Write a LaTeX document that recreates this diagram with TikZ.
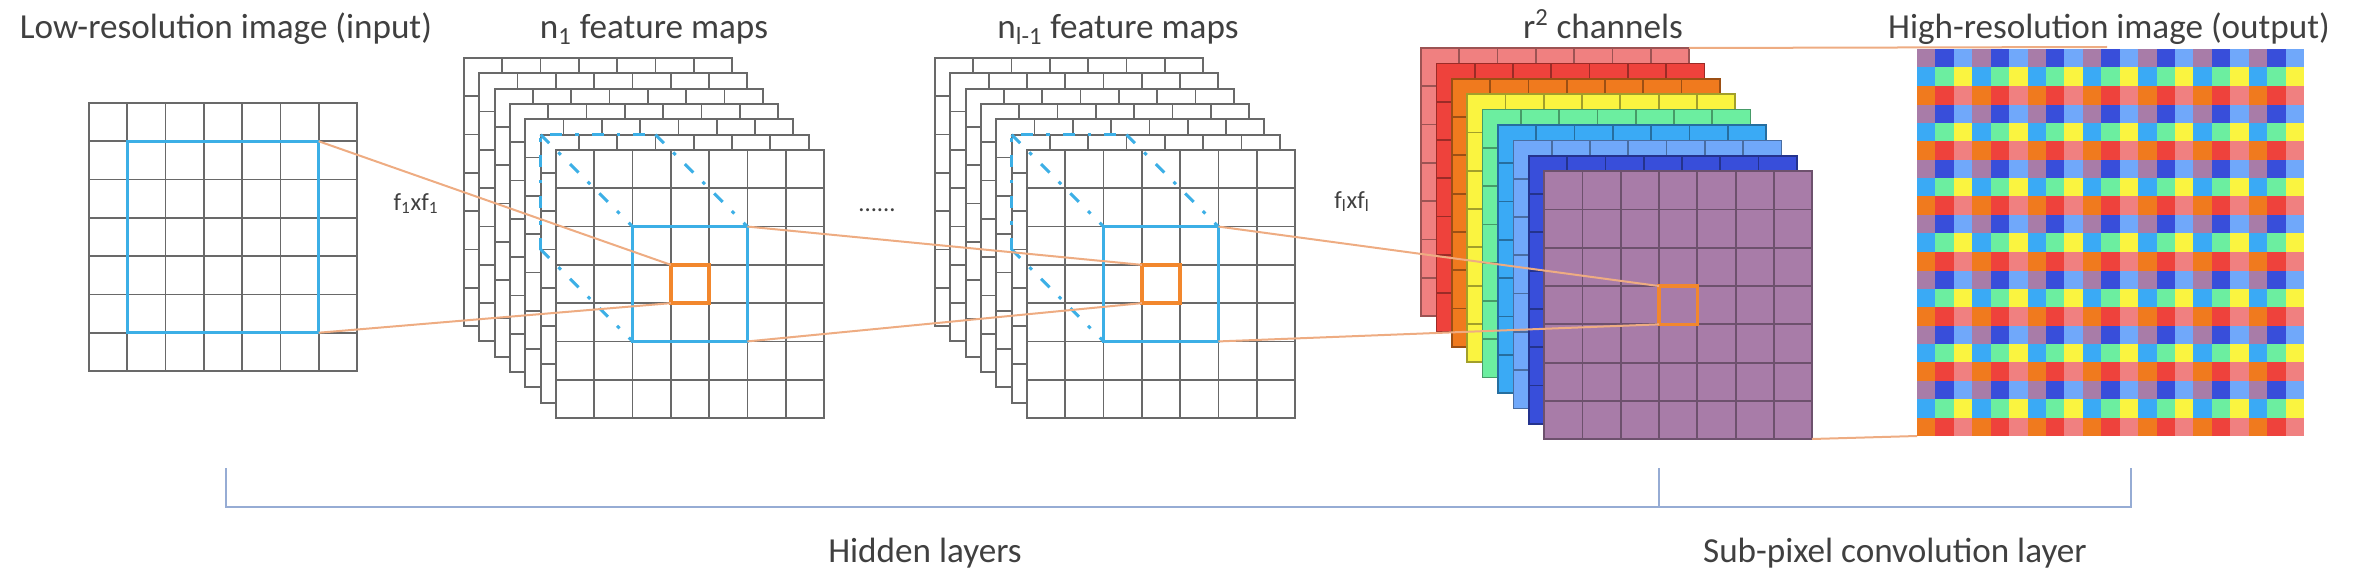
\documentclass[tikz,border=0pt]{standalone}
\usepackage{fontspec}
\setmainfont{Carlito}
\usepackage{tikz}

\definecolor{gridgray}{RGB}{105,105,105}
\definecolor{winblue}{RGB}{60,175,230}
\definecolor{cellorange}{RGB}{242,135,45}
\definecolor{linkorange}{RGB}{238,172,130}
\definecolor{bracketblue}{RGB}{150,172,212}
\definecolor{textgray}{RGB}{64,64,64}
\definecolor{chpink}{RGB}{240,128,128}
\definecolor{chred}{RGB}{238,66,60}
\definecolor{chorange}{RGB}{240,122,30}
\definecolor{chyellow}{RGB}{250,244,64}
\definecolor{chmint}{RGB}{108,238,160}
\definecolor{chazure}{RGB}{58,170,245}
\definecolor{chsky}{RGB}{112,168,250}
\definecolor{chnavy}{RGB}{56,78,218}
\definecolor{chpurple}{RGB}{168,124,168}

\def\cs{38.2857}
\def\fs{268}
\def\hc{18.43}
% one 7x7 map: top left x, y, fill, line colour
\newcommand{\fmap}[4]{%
  \fill[#3] (#1,#2) rectangle ++(\fs,\fs);
  \foreach \k in {1,...,6}
    \draw[gridline, draw=#4] (#1+\k*\cs,#2) -- ++(0,\fs) (#1,#2+\k*\cs) -- ++(\fs,0);
  \draw[gridline, draw=#4] (#1,#2) rectangle ++(\fs,\fs);
}

\begin{document}
\begin{tikzpicture}[x=0.2mm, y=-0.2mm, text=textgray,
  gridline/.style={line width=0.35mm},
  win/.style={draw=winblue, line width=0.65mm, minimum size=22.97mm},
  ghost/.style={minimum size=22.97mm},
  dashwin/.style={draw=winblue, line width=0.6mm, dash pattern=on 2.4mm off 2.6mm on 0.7mm off 2.6mm},
  cell/.style={draw=cellorange, line width=0.7mm, minimum size=7.66mm},
  link/.style={draw=linkorange, line width=0.4mm},
  bracket/.style={draw=bracketblue, line width=0.4mm},
  title/.style={font=\fontsize{20}{24}\selectfont, anchor=base},
  small/.style={font=\fontsize{14}{16}\selectfont, anchor=base}]
\tikzstyle{every node}+=[inner sep=0pt, outer sep=0pt]
\useasboundingbox (0,0) rectangle (2358,584);

% input and hidden maps
\fmap{89}{103}{white}{gridgray}
\foreach \n in {0,...,6} {\fmap{464+\n*15.33}{58+\n*15.33}{white}{gridgray}}
\foreach \n in {0,...,6} {\fmap{935+\n*15.33}{58+\n*15.33}{white}{gridgray}}

% r^2 channels
\foreach \n/\c in {0/chpink,1/chred,2/chorange,3/chyellow,4/chmint,5/chazure,6/chsky,7/chnavy,8/chpurple}
  {\fmap{1421+\n*15.4}{48+\n*15.4}{\c}{\c!65!black}}

% high-resolution image
\foreach \q/\ca/\cb/\cc in {0/chpurple/chnavy/chsky, 1/chazure/chmint/chyellow, 2/chorange/chred/chpink}
  \foreach \i in {0,...,6}
    \foreach \j in {0,...,6} {
      \pgfmathsetmacro{\yy}{49+(3*\i+\q)*\hc}
      \fill[fill=\ca] ({1917+3*\j*\hc},\yy) rectangle ++(18.8,18.8);
      \fill[fill=\cb] ({1917+(3*\j+1)*\hc},\yy) rectangle ++(18.8,18.8);
      \fill[fill=\cc] ({1917+(3*\j+2)*\hc},\yy) rectangle ++(18.8,18.8);
    }

\coordinate (pinkne) at (1689,48);
\coordinate (hrtop) at (2107,47);
\coordinate (purplese) at (1812,439);
\coordinate (hrsw) at (1917,436);

% windows
\node[win, minimum size=38.29mm] (inwin) at (223,237) {};
\node[ghost] (s1dash) at (598.1,192.1) {};
\node[ghost] (s2dash) at (1069.1,192.1) {};
\node[win] (s1win) at (690,284) {};
\node[win] (s2win) at (1161,284) {};
\foreach \m in {s1,s2} {
  \draw[dashwin] (\m dash.south west) -- (\m dash.north west) -- (\m dash.north east);
  \draw[dashwin] (\m dash.north west) -- (\m win.north west);
  \draw[dashwin] (\m dash.north east) -- (\m win.north east);
  \draw[dashwin] (\m dash.south west) -- (\m win.south west);
}
\node[cell] (s1cell) at (690,284) {};
\node[cell] (s2cell) at (1161,284) {};
\node[cell] (r2cell) at (1678.2,305.2) {};

\draw[link] (inwin.north east) -- (s1cell.north west);
\draw[link] (inwin.south east) -- (s1cell.south west);
\draw[link] (s1win.north east) -- (s2cell.north west);
\draw[link] (s1win.south east) -- (s2cell.south west);
\draw[link] (s2win.north east) -- (r2cell.north west);
\draw[link] (s2win.south east) -- (r2cell.south west);
\draw[link] (pinkne) -- (hrtop);
\draw[link] (purplese) -- (hrsw);

% labels
\node[title] (lrlabel) at (226,39) {Low-resolution image (input)};
\node[title] (n1label) at (654,39) {n\textsubscript{1} feature maps};
\node[title] (nllabel) at (1118,39) {n\textsubscript{l-1} feature maps};
\node[title] (r2label) at (1603,39) {r\textsuperscript{2} channels};
\node[title] (hrlabel) at (2109,39) {High-resolution image (output)};
\node[small] (f1label) at (416,210) {f\textsubscript{1}xf\textsubscript{1}};
\node[small] (dots) at (877,211) {......};
\node[small] (fllabel) at (1352,208) {f\textsubscript{l}xf\textsubscript{l}};

% brackets
\coordinate (brl) at (226,507);
\coordinate (brm) at (1659,507);
\coordinate (brr) at (2131,507);
\draw[bracket] (brl) ++(0,-39) -- (brl) -- (brr) -- ++(0,-39);
\draw[bracket] (brm) -- ++(0,-39);
\node[title] (hidden) at (925,562) {Hidden layers};
\node[title] (subpix) at (1895,562) {Sub-pixel convolution layer};
\end{tikzpicture}
\end{document}
